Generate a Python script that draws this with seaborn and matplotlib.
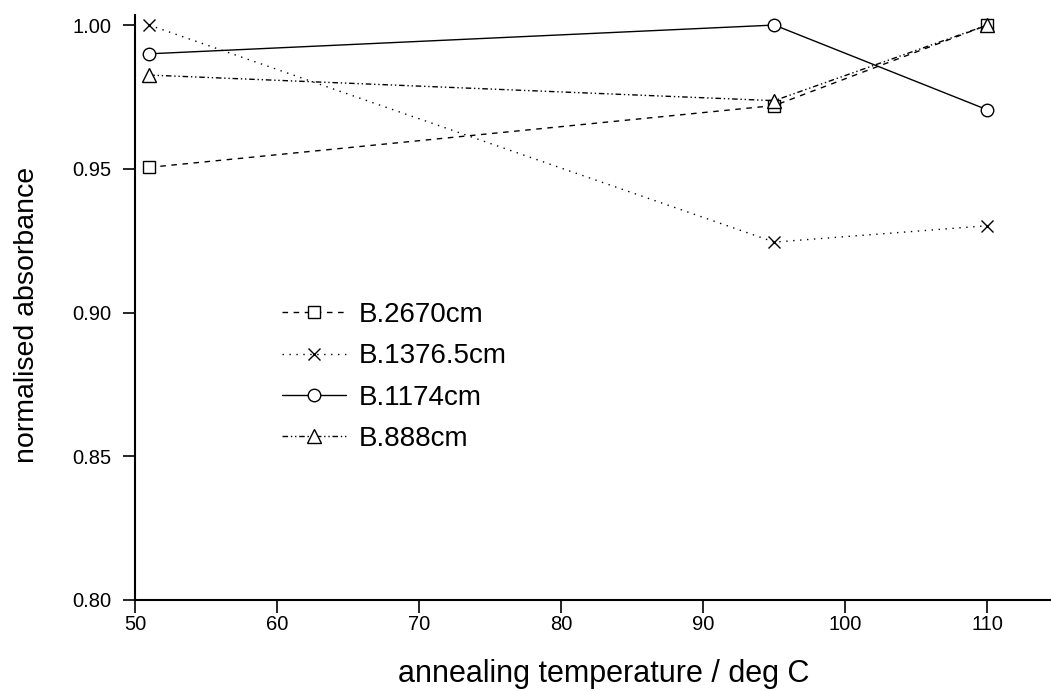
import numpy as np
import pandas as pd
import matplotlib
matplotlib.use("Agg")
import matplotlib.pyplot as plt
import seaborn as sns

# data
temps = [51, 95, 110]
b2670 = [0.9505, 0.972, 1.000]
b1376 = [1.000, 0.9245, 0.9302]
b1174 = [0.990, 1.000, 0.9705]
b888 = [0.9826, 0.9737, 1.000]

series_names = ["B.2670cm", "B.1376.5cm", "B.1174cm", "B.888cm"]
x_ticks = [50, 60, 70, 80, 90, 100, 110]
y_ticks = [0.80, 0.85, 0.90, 0.95, 1.00]

sns.set_style("ticks")
plt.rcParams['font.family'] = ['Liberation Sans', 'DejaVu Sans']
plt.rcParams['text.color'] = 'black'
plt.rcParams['axes.labelcolor'] = 'black'

fig = plt.figure(figsize=(10.51, 6.91), dpi=100)
ax = fig.add_axes([0.1285, 0.1317, 0.8705, 0.8466])

styles = [
    dict(marker='s', linestyle=(0, (4, 4)), markersize=8),
    dict(marker='x', linestyle=(0, (1, 4)), markersize=9),
    dict(marker='o', linestyle='-', markersize=9),
    dict(marker='^', linestyle=(0, (4, 2, 1, 2, 1, 2)), markersize=10),
]
values = [b2670, b1376, b1174, b888]

for name, vals, st in zip(series_names, values, styles):
    sns.lineplot(x=temps, y=vals, ax=ax, color='black', linewidth=1.0,
                 markerfacecolor='white', markeredgecolor='black',
                 markeredgewidth=1.0, label=name, **st)

ax.set_xlim(50, 114.4)
ax.set_ylim(0.80, 1.0035)
ax.set_xticks(x_ticks)
ax.set_yticks(y_ticks)
ax.set_yticklabels([f"{v:.2f}" for v in y_ticks])
ax.tick_params(axis='both', labelsize=14.5, length=9, width=1.2, direction='out',
               colors='black')
ax.tick_params(axis='x', pad=2)
ax.tick_params(axis='y', pad=8)
for s in ['top', 'right']:
    ax.spines[s].set_visible(False)
for s in ['left', 'bottom']:
    ax.spines[s].set_color('black')
    ax.spines[s].set_linewidth(1.5)

ax.set_xlabel("annealing temperature / deg C", fontsize=22, labelpad=18, x=0.512)
ax.set_ylabel("normalised absorbance", fontsize=20.5, labelpad=23, y=0.487)

ax.legend(loc='upper left', bbox_to_anchor=(0.1335, 0.552), frameon=False,
          fontsize=20, handlelength=2.3, labelspacing=0.55, handletextpad=0.45)

fig.savefig("out.png", dpi=100)
